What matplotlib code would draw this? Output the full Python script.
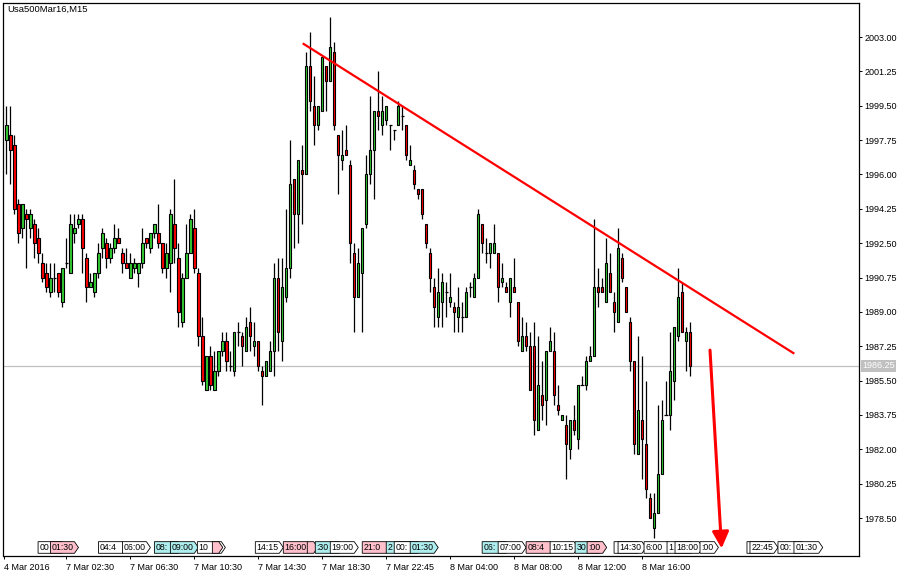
import matplotlib
matplotlib.use("Agg")
import matplotlib.pyplot as plt
import matplotlib.transforms as mtransforms
from matplotlib.patches import Polygon
import numpy as np

plt.rcParams['font.family'] = ['Liberation Sans', 'DejaVu Sans']

opens = [1997.75,1998.0,1997.5,1994.5,1993.25,1994.0,1993.25,1993.5,1992.75,1991.5,
         1991.0,1990.0,1990.75,1991.0,1989.5,1991.5,1991.0,1993.0,1993.5,1993.75,
         1991.75,1990.25,1990.0,1991.0,1992.25,1992.5,1991.75,1992.25,1992.75,1992.0,
         1991.5,1990.75,1991.25,1991.0,1991.5,1992.75,1992.25,1993.0,1993.0,1992.5,
         1991.25,1991.5,1993.5,1991.75,1988.5,1990.75,1992.0,1993.25,1991.0,1987.75,
         1985.0,1986.75,1985.0,1986.0,1987.0,1987.5,1986.25,1986.0,1988.0,1987.75,
         1987.0,1988.5,1987.25,1987.5,1986.0,1985.75,1986.0,1987.0,1990.75,1987.5,
         1989.75,1991.25,1995.75,1994.0,1996.25,1996.0,2001.5,1999.5,1998.5,1999.25,
         2001.5,2000.75,2002.25,1998.0,1996.75,1997.25,1996.5,1992.0,1989.75,1991.0,
         1993.5,1996.0,1997.25,1999.25,1998.5,1998.75,1998.5,1998.25,1998.5,1999.0,
         1998.5,1996.5,1996.25,1995.25,1995.25,1993.5,1992.0,1990.25,1988.75,1989.5,
         1990.0,1989.5,1989.25,1988.75,1988.75,1988.75,1990.25,1989.75,1990.75,1993.5,
         1992.0,1992.0,1992.0,1992.0,1990.5,1990.25,1989.5,1990.25,1989.5,1987.0,
         1987.75,1987.25,1987.25,1983.0,1984.75,1984.5,1987.0,1987.0,1984.25,1983.5,
         1983.25,1982.0,1983.5,1982.5,1985.25,1985.25,1986.5,1986.75,1990.25,1990.25,
         1989.5,1991.0,1989.5,1988.5,1991.75,1990.25,1988.5,1986.5,1981.75,1983.5,
         1982.25,1979.5,1978.0,1978.75,1980.75,1983.75,1983.75,1985.5,1987.75,1990.0,
         1987.5,1988.0]
highs = [1999.5,1999.5,1998.0,1994.75,1994.5,1994.25,1994.25,1993.75,1993.25,1992.0,
         1991.5,1991.5,1991.5,1991.0,1991.25,1992.75,1994.0,1994.0,1994.0,1994.0,
         1992.0,1991.0,1991.0,1992.5,1993.25,1992.75,1992.5,1993.5,1993.25,1992.25,
         1992.25,1992.0,1991.75,1991.5,1993.25,1992.75,1993.0,1993.5,1994.5,1992.5,
         1992.5,1994.25,1995.75,1992.5,1991.0,1993.5,1994.0,1994.25,1991.25,1988.75,
         1986.75,1987.25,1987.0,1987.0,1988.0,1988.0,1987.0,1988.0,1988.5,1988.0,
         1988.75,1989.25,1988.5,1987.5,1986.25,1986.5,1987.5,1991.5,1991.75,1991.75,
         1994.25,1997.75,1995.75,1996.75,1997.5,2002.25,2003.25,2001.0,1999.5,2002.0,
         2001.5,2004.0,2002.75,1998.0,1998.25,1998.5,1996.75,1992.5,1992.25,1993.25,
         1997.0,2000.0,1999.25,2001.25,2000.0,1999.5,1998.5,1998.25,1999.75,1999.5,
         1998.5,1997.5,1996.5,1995.25,1995.25,1993.5,1992.25,1990.75,1991.25,1991.0,
         1990.5,1991.0,1989.5,1990.25,1989.5,1990.25,1990.5,1991.0,1994.25,1993.5,
         1992.75,1992.5,1993.5,1992.0,1991.5,1990.5,1990.75,1991.75,1989.5,1988.75,
         1988.5,1988.0,1988.5,1987.75,1986.5,1987.0,1988.25,1988.0,1985.25,1983.75,
         1983.75,1983.5,1984.25,1985.25,1985.75,1986.75,1987.25,1993.75,1991.25,1990.75,
         1992.75,1992.0,1990.0,1993.25,1992.0,1990.25,1988.75,1986.5,1987.75,1986.75,
         1985.5,1979.75,1979.75,1984.25,1984.5,1985.5,1988.0,1988.25,1991.25,1990.5,
         1988.25,1988.5]
lows = [1996.0,1995.5,1994.0,1992.5,1992.75,1991.25,1992.75,1991.75,1991.5,1990.5,
        1990.0,1989.75,1990.0,1989.75,1989.25,1991.25,1991.0,1992.5,1993.25,1991.0,
        1989.5,1990.25,1989.75,1990.75,1991.75,1991.25,1991.5,1992.0,1992.5,1991.0,
        1991.25,1990.75,1991.0,1990.25,1991.25,1992.25,1992.0,1992.75,1992.25,1991.0,
        1990.75,1990.0,1991.5,1988.25,1988.25,1990.75,1992.0,1991.0,1987.25,1985.25,
        1985.0,1985.0,1985.0,1985.75,1986.75,1986.0,1986.0,1985.75,1987.25,1986.25,
        1987.0,1987.0,1986.75,1986.0,1984.25,1985.75,1986.0,1985.75,1987.0,1986.5,
        1989.5,1990.75,1992.25,1992.5,1993.5,1996.0,1999.25,1997.5,1998.25,1999.25,
        1999.25,2000.75,1998.25,1995.0,1996.25,1997.0,1991.5,1988.0,1989.75,1988.0,
        1993.25,1995.5,1994.75,1998.25,1998.0,1998.5,1997.25,1997.75,1998.5,1998.25,
        1996.75,1996.5,1995.25,1994.75,1993.75,1992.25,1990.0,1988.25,1988.25,1988.25,
        1988.75,1989.25,1988.0,1988.0,1988.0,1988.75,1989.75,1989.75,1990.75,1992.0,
        1991.5,1991.25,1992.0,1989.5,1990.25,1990.0,1988.75,1990.0,1987.25,1987.0,
        1987.0,1985.0,1982.75,1983.0,1983.5,1983.25,1987.0,1984.25,1983.75,1983.5,
        1980.5,1981.5,1982.75,1982.0,1985.25,1985.0,1986.5,1986.75,1989.25,1990.0,
        1989.5,1990.0,1988.0,1988.5,1990.5,1989.0,1986.0,1981.75,1981.75,1980.5,
        1979.5,1978.5,1977.5,1978.75,1980.75,1983.75,1983.0,1984.5,1987.5,1988.0,
        1986.0,1985.75]
closes = [1998.5,1997.25,1994.25,1993.0,1994.5,1993.75,1994.0,1992.5,1992.0,1990.75,
          1990.25,1990.75,1990.75,1990.0,1991.25,1991.5,1993.5,1993.25,1993.75,1992.25,
          1990.25,1990.5,1991.0,1992.0,1993.0,1991.75,1992.25,1992.75,1992.5,1991.5,
          1991.25,1991.5,1991.5,1991.5,1992.5,1992.5,1993.0,1993.5,1992.5,1991.25,
          1992.0,1994.0,1992.25,1989.0,1990.75,1992.0,1993.75,1991.25,1987.75,1985.5,
          1986.75,1985.25,1986.0,1987.0,1987.5,1986.5,1986.25,1988.0,1988.0,1987.25,
          1988.25,1987.75,1987.5,1986.25,1985.75,1986.5,1987.0,1990.75,1988.0,1990.25,
          1991.25,1995.5,1994.0,1996.75,1996.0,2001.5,1999.75,1998.5,1999.5,2002.0,
          2000.75,2002.5,1998.5,1997.0,1997.0,1997.0,1992.5,1989.75,1991.5,1993.25,
          1996.0,1997.25,1999.25,1999.0,1999.25,1999.5,1998.5,1998.25,1999.5,1999.0,
          1997.0,1996.75,1995.5,1995.0,1994.0,1992.5,1990.75,1989.25,1990.0,1990.5,
          1990.0,1989.75,1989.0,1989.25,1988.75,1990.0,1990.25,1990.75,1994.0,1992.5,
          1992.0,1992.5,1992.5,1990.25,1990.75,1990.0,1990.75,1990.0,1987.5,1987.75,
          1987.25,1985.0,1983.5,1985.25,1984.25,1987.0,1987.5,1984.75,1984.0,1983.75,
          1982.25,1983.5,1983.0,1985.25,1985.25,1986.5,1986.75,1990.25,1990.0,1990.0,
          1991.5,1990.0,1989.0,1992.25,1990.75,1989.0,1986.5,1982.25,1984.0,1982.5,
          1980.0,1978.5,1978.75,1980.75,1983.5,1983.75,1986.0,1988.25,1989.75,1988.0,
          1988.0,1986.25]

tick_positions = [-0.75, 15, 31, 47, 63, 79, 95, 111, 127, 143, 159]
tick_labels = ["4 Mar 2016", "7 Mar 02:30", "7 Mar 06:30", "7 Mar 10:30", "7 Mar 14:30",
               "7 Mar 18:30", "7 Mar 22:45", "8 Mar 04:00", "8 Mar 08:00", "8 Mar 12:00",
               "8 Mar 16:00"]
price_ticks = [1978.50, 1980.25, 1982.00, 1983.75, 1985.50, 1987.25, 1989.00,
               1990.75, 1992.50, 1994.25, 1996.00, 1997.75, 1999.50, 2001.25, 2003.00]
current_price = 1986.25

trend_x = [74.1, 197.1]
trend_y = [2002.68, 1986.87]
arrow_start = (176.0, 1987.05)
arrow_end = (178.9, 1976.95)

# calendar event markers (bar position, visible text, colour kind, width in bars)
event_pos = [7.9, 11.0, 23.0, 29.0, 37.0, 41.0, 47.75, 51.5, 62.25, 69.25, 75.25, 77.25,
             81.0, 89.0, 95.0, 97.0, 101.0, 119.0, 123.0, 130.0, 136.0, 142.25, 145.25,
             152.0, 153.0, 159.5, 165.25, 167.25, 173.5, 185.25, 186.0, 193.0, 197.0]
event_text = ["00", "01:30", "04:4", "06:00", "08:", "09:00", "10", "",
              "14:15", "16:00", "", ":30", "19:00", "21:0", "2", "00:",
              "01:30", "06:", "07:00", "08:4", "10:15", "30", ":00", "",
              "14:30", "6:00", "1", "18:00", ":00", "", "22:45", "00:", "01:30"]
event_kind = ["w", "p", "w", "w", "c", "c", "w", "p", "w", "p", "p", "c",
              "w", "p", "c", "w", "c", "c", "w", "p", "w", "c", "p", "w",
              "w", "w", "w", "w", "w", "w", "w", "w", "w"]
event_width = [7, 7, 7, 7, 7, 7, 7, 2.6, 7, 7, 2.6, 7,
               7, 7, 7, 7, 7, 7, 7, 7, 7, 7, 4.9, 7,
               7, 7, 7, 7, 4.6, 7, 7, 7, 7.2]

W, H = 912, 578
fig = plt.figure(figsize=(W / 100, H / 100), dpi=100)
ax_l, ax_r, ax_t, ax_b = 3.5, 859.5, 2.5, 555.5
ax = fig.add_axes([ax_l / W, 1 - ax_b / H, (ax_r - ax_l) / W, (ax_b - ax_t) / H])

n = len(opens)
x = np.arange(n)
o = np.array(opens); c = np.array(closes); hi = np.array(highs); lo = np.array(lows)

ax.vlines(x, lo, hi, color='black', linewidth=0.9, zorder=2)
up = c > o
dn = c < o
eq = c == o
bw = 0.58
ax.bar(x[up], (c - o)[up], bottom=o[up], width=bw, color='#32cd32',
       edgecolor='black', linewidth=0.8, zorder=3)
ax.bar(x[dn], (o - c)[dn], bottom=c[dn], width=bw, color='#ff0000',
       edgecolor='black', linewidth=0.8, zorder=3)
ax.hlines(o[eq], x[eq] - 0.4, x[eq] + 0.4, color='black', linewidth=0.9, zorder=3)

ax.axhline(current_price, color='#c0c0c0', linewidth=0.9, zorder=1)

ax.plot(trend_x, trend_y, color='#ff0000', linewidth=1.6, zorder=4, solid_capstyle='butt')
ax.annotate('', xy=arrow_end, xytext=arrow_start,
            arrowprops=dict(arrowstyle='-|>,head_length=1.0,head_width=0.5',
                            color='#ff0000', lw=2.2, shrinkA=0, shrinkB=0), zorder=4)

ax.set_xlim(-0.75, 213.4)
ax.set_ylim(1976.59, 2004.76)

# event boxes
trans = mtransforms.blended_transform_factory(ax.transData, ax.transAxes)
kind_color = {"w": "#ffffff", "p": "#ffc0cb", "c": "#afeeee"}
y0, y1 = 0.004, 0.025
for i, (pos, txt, k, wd) in enumerate(zip(event_pos, event_text, event_kind, event_width)):
    tip = min(1.0, wd * 0.4)
    body = wd - tip
    ym = (y0 + y1) / 2
    zo = 10 + 2 * i
    poly = Polygon([[pos, y0], [pos + body, y0], [pos + body + tip, ym],
                    [pos + body, y1], [pos, y1]], closed=True, transform=trans,
                   facecolor=kind_color[k], edgecolor='black', linewidth=0.6,
                   zorder=zo, clip_on=False)
    ax.add_patch(poly)
    if txt:
        ax.text(pos + 0.3, ym, txt, transform=trans, fontsize=6.3, ha='left',
                va='center', zorder=zo + 1, color='black')

ax.text(0.004, 0.9875, "Usa500Mar16,M15", transform=ax.transAxes, fontsize=6.8,
        ha='left', va='center', color='black')

ax.yaxis.tick_right()
ax.set_yticks(price_ticks)
ax.set_yticklabels([f"{v:.2f}" for v in price_ticks])
ax.tick_params(axis='y', direction='out', length=2.5, width=0.7, pad=1.2,
               labelsize=6.5, colors='black')
ax.set_xticks(tick_positions)
ax.set_xticklabels(tick_labels)
ax.tick_params(axis='x', direction='out', length=2.5, width=0.7, pad=3,
               labelsize=6.5, colors='black')
for lab in ax.get_xticklabels():
    lab.set_ha('left')

ax.text(1.0 + 2.5 / (ax_r - ax_l), current_price, f"{current_price:.2f}",
        transform=mtransforms.blended_transform_factory(ax.transAxes, ax.transData),
        fontsize=6.5, color='white', ha='left', va='center', zorder=7,
        bbox=dict(boxstyle='square,pad=0.15', facecolor='#c0c0c0', edgecolor='none'))

for s in ax.spines.values():
    s.set_linewidth(0.9)
    s.set_color('black')

fig.savefig("out.png", dpi=100, facecolor='white')
